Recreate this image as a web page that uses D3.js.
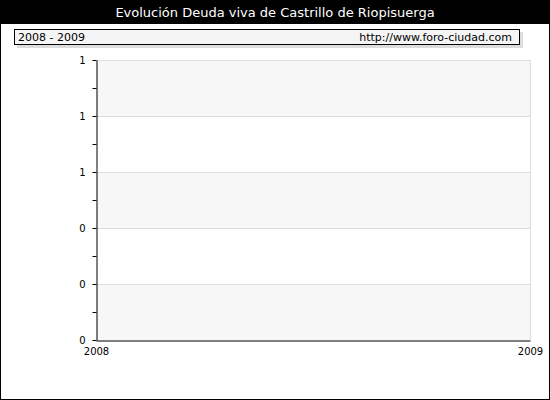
<!DOCTYPE html>
<html><head><meta charset="utf-8">
<script src="https://cdn.jsdelivr.net/npm/d3@7"></script>
<style>body{margin:0}svg{display:block}</style>
</head><body>
<script>
// chart data
const title = "Evolución Deuda viva de Castrillo de Riopisuerga";
const period = "2008 - 2009";
const source = "http://www.foro-ciudad.com";
const years = [2008, 2009];
const yTicks = [0, 0.2, 0.4, 0.6, 0.8, 1];

const width = 550, height = 400;
const marginLeft = 96, marginRight = 20, marginTop = 60, marginBottom = 60;

const svg = d3.select("body").append("svg")
    .attr("width", width).attr("height", height)
    .style("font-family", "Verdana, 'DejaVu Sans', sans-serif");

svg.append("rect").attr("x", 0.5).attr("y", 0.5)
    .attr("width", width - 1).attr("height", height - 1)
    .attr("fill", "#fff").attr("stroke", "#000");

// title bar
svg.append("rect").attr("width", width).attr("height", 24).attr("fill", "#000");
svg.append("text").attr("x", width / 2).attr("y", 17)
    .attr("text-anchor", "middle").attr("fill", "#fff")
    .attr("font-size", 13).text(title);

// info box with shadow
svg.append("rect").attr("x", 17).attr("y", 32).attr("width", 506).attr("height", 16).attr("fill", "#ddd");
svg.append("rect").attr("x", 14.5).attr("y", 29.5).attr("width", 505).attr("height", 15)
    .attr("fill", "#f5f5f5").attr("stroke", "#000");
svg.append("text").attr("x", 18).attr("y", 41).attr("font-size", 11).text(period);
svg.append("text").attr("x", 512).attr("y", 41).attr("font-size", 11)
    .attr("text-anchor", "end").text(source);

const x = d3.scaleLinear().domain(d3.extent(years)).range([marginLeft, width - marginRight]);
const y = d3.scaleLinear().domain([0, 1]).range([height - marginBottom, marginTop]);

// alternating bands
const g = svg.append("g");
for (let i = 0; i < yTicks.length - 1; i++) {
    g.append("rect")
        .attr("x", x(years[0])).attr("y", y(yTicks[i + 1]))
        .attr("width", x(years[1]) - x(years[0]))
        .attr("height", y(yTicks[i]) - y(yTicks[i + 1]))
        .attr("fill", i % 2 === 0 ? "#f7f7f7" : "#fff");
}
g.selectAll("line.grid").data(yTicks.slice(1)).join("line")
    .attr("x1", x(years[0])).attr("x2", x(years[1]))
    .attr("y1", d => Math.round(y(d)) + 0.5).attr("y2", d => Math.round(y(d)) + 0.5)
    .attr("stroke", "#ddd");
svg.append("line").attr("x1", x(years[1]) + 0.5).attr("x2", x(years[1]) + 0.5)
    .attr("y1", y(1)).attr("y2", y(0)).attr("stroke", "#ddd");

// y axis with minor ticks
const minor = d3.range(yTicks.length - 1).map(i => (yTicks[i] + yTicks[i + 1]) / 2);
svg.append("g").attr("transform", `translate(${marginLeft + 0.5},0)`)
    .call(d3.axisLeft(y).tickValues(minor).tickSize(4).tickFormat(""))
    .call(a => a.select(".domain").remove());
svg.append("g").attr("transform", `translate(${marginLeft + 0.5},0)`)
    .call(d3.axisLeft(y).tickValues(yTicks).tickSize(4).tickSizeOuter(0)
        .tickFormat(d3.format(".0f")))
    .call(a => a.selectAll("text").attr("x", -11).attr("font-size", 10).attr("font-family", "Verdana, 'DejaVu Sans', sans-serif"));

// x axis
svg.append("g").attr("transform", `translate(0,${y(0) + 0.5})`)
    .call(d3.axisBottom(x).tickValues(years).tickSize(0).tickSizeOuter(0).tickFormat(d3.format("d")))
    .call(a => a.selectAll("text").attr("dy", "1.1em").attr("font-size", 10).attr("font-family", "Verdana, 'DejaVu Sans', sans-serif"));
</script>
</body></html>
